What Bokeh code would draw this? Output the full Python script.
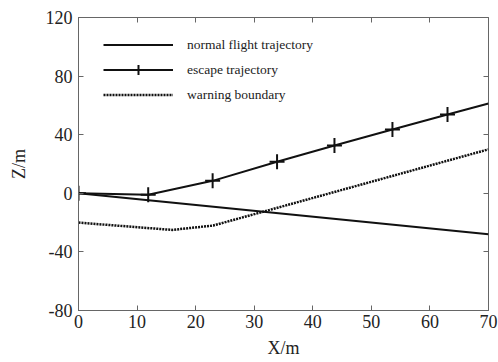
from bokeh.plotting import figure
from bokeh.models import Range1d, LinearAxis, FixedTicker, Legend, LegendItem, CustomJSTickFormatter
from bokeh.embed import file_html
from bokeh.resources import INLINE

# data
normal_x = [0, 70]
normal_z = [0, -28]

escape_x = [0, 11.9, 22.9, 33.9, 43.7, 53.6, 63.0, 70]
escape_z = [0, -1.0, 8.5, 21.5, 32.6, 43.5, 53.8, 61.3]
marker_x = escape_x[:-1]
marker_z = escape_z[:-1]

warn_x = [0, 16, 23, 70]
warn_z = [-20, -25, -22, 30]

x_ticks = [0, 10, 20, 30, 40, 50, 60, 70]
y_ticks = [-80, -40, 0, 40, 80, 120]

FONT = "Liberation Serif"
AXC = "#666666"
TXT = "#222222"
LC = "#111111"

p = figure(width=498, height=362, output_backend="svg", toolbar_location=None,
           x_range=Range1d(0, 70), y_range=Range1d(-80, 120),
           min_border_left=78, min_border_right=10, min_border_top=17, min_border_bottom=52)
p.grid.visible = False
p.outline_line_color = AXC
p.background_fill_color = "white"

r_normal = p.line(normal_x, normal_z, line_color=LC, line_width=2)
r_escape = p.line(escape_x, escape_z, line_color=LC, line_width=2)
r_marks = p.scatter(marker_x, marker_z, marker="cross", size=15, line_color=LC, line_width=2)
r_warn = p.line(warn_x, warn_z, line_color=LC, line_width=2.5, line_dash="2 1")

plain = CustomJSTickFormatter(code="return String(tick);")

xa = p.xaxis[0]
xa.ticker = FixedTicker(ticks=x_ticks)
ya = p.yaxis[0]
ya.ticker = FixedTicker(ticks=y_ticks)
for ax in (xa, ya):
    ax.formatter = plain
    ax.axis_line_color = AXC
    ax.major_tick_line_color = AXC
    ax.major_tick_in = 5
    ax.major_tick_out = 0
    ax.minor_tick_line_color = None
    ax.major_label_text_font = FONT
    ax.major_label_text_font_size = "18px"
    ax.major_label_text_color = TXT
    ax.axis_label_text_font = FONT
    ax.axis_label_text_font_size = "18px"
    ax.axis_label_text_font_style = "normal"
    ax.axis_label_text_color = TXT
xa.axis_label = "X/m"
ya.axis_label = "Z/m"
xa.major_label_standoff = 4
xa.axis_label_standoff = 7
ya.major_label_standoff = 6
ya.axis_label_standoff = 14

empty = CustomJSTickFormatter(code="return '';")
top = LinearAxis(ticker=FixedTicker(ticks=x_ticks), formatter=empty,
                 axis_line_color=None, major_tick_line_color=AXC, major_tick_in=5,
                 major_tick_out=0, minor_tick_line_color=None, major_label_standoff=0)
right = LinearAxis(ticker=FixedTicker(ticks=y_ticks), formatter=empty,
                   axis_line_color=None, major_tick_line_color=AXC, major_tick_in=5,
                   major_tick_out=0, minor_tick_line_color=None, major_label_standoff=0)
p.add_layout(top, "above")
p.add_layout(right, "right")

legend = Legend(items=[
    LegendItem(label="normal flight trajectory", renderers=[r_normal]),
    LegendItem(label="escape trajectory", renderers=[r_escape, r_marks]),
    LegendItem(label="warning boundary", renderers=[r_warn]),
], location=(25, 203))
legend.glyph_width = 70
legend.glyph_height = 25
legend.spacing = 0
legend.padding = 5
legend.margin = 0
legend.label_standoff = 14
legend.label_text_font = FONT
legend.label_text_font_size = "13.5px"
legend.label_text_color = TXT
legend.border_line_color = None
legend.background_fill_alpha = 0
p.add_layout(legend, "center")

open("out.html", "w").write(file_html(p, INLINE))
